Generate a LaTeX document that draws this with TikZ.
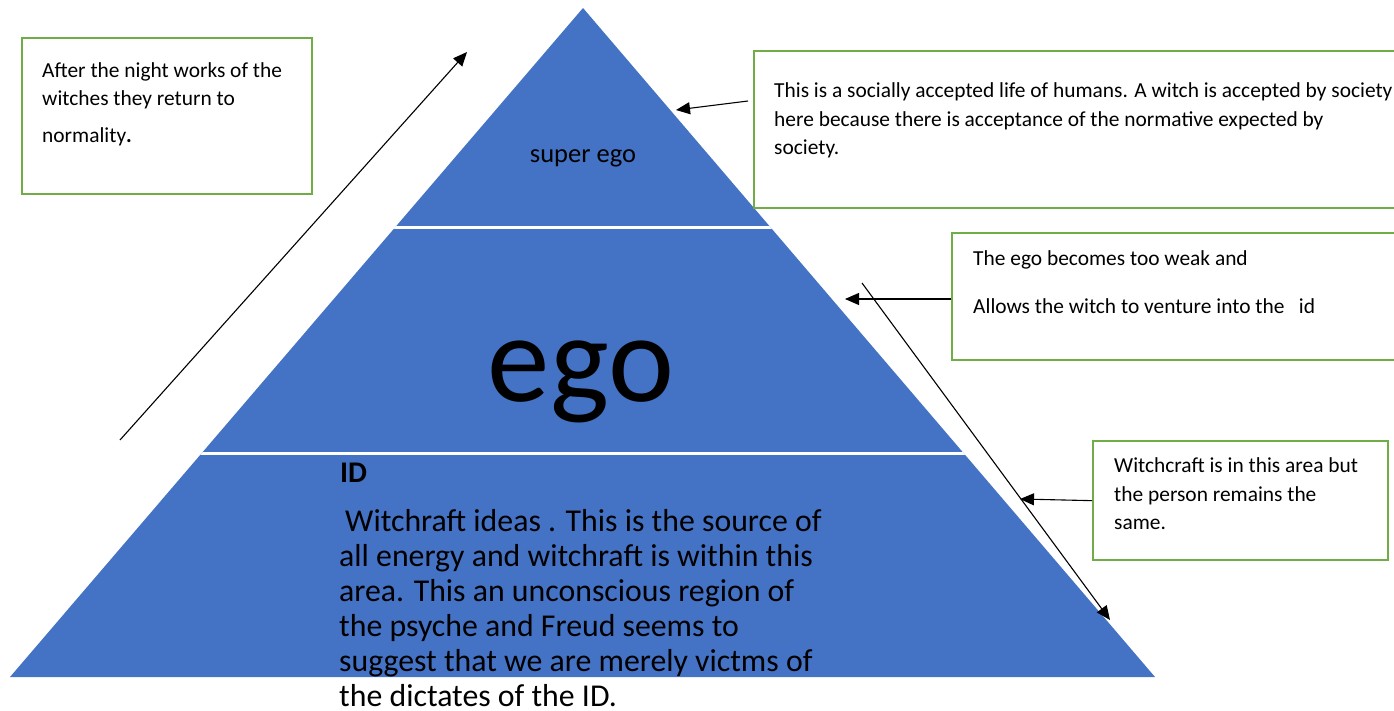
\documentclass[tikz,border=0pt]{standalone}
\usepackage{fontspec}
\setmainfont{Carlito}
\usetikzlibrary{arrows.meta,positioning,calc}
\definecolor{pyrblue}{HTML}{4472C4}
\definecolor{boxgreen}{HTML}{70AD47}
\newcommand{\notefont}{\fontsize{21.4}{28.5}\selectfont}
\newcommand{\idfont}{\fontsize{31.8}{35}\selectfont}

\begin{document}
\begin{tikzpicture}[x=1pt,y=-1pt,
  b/.style={draw=boxgreen,line width=2.3pt,anchor=north west,inner sep=0pt},
  t/.style={anchor=north west,align=left,inner sep=0pt,font=\notefont},
  ar/.style={-{Triangle[length=14pt,width=12pt]},line width=1.1pt},
  gap/.style={white,line width=3pt}]
\useasboundingbox (0,0) rectangle (1394,711);
% pyramid with two white cuts
\coordinate (apex) at (583,8);
\coordinate (bl) at (10,677);
\coordinate (br) at (1155,677);
\fill[pyrblue] (apex) -- (br) -- (bl) -- cycle;
\begin{scope}
  \clip (apex) -- (br) -- (bl) -- cycle;
  \draw[gap] (0,228) -- (1394,228);
  \draw[gap] (0,453) -- (1394,453);
\end{scope}
\node[font=\fontsize{26.5}{30}\selectfont,anchor=base] (superego) at (583,163) {super ego};
\node[font=\fontsize{125}{130}\selectfont,anchor=base] (ego) at (581,401) {ego};
\node[font=\fontsize{30}{34}\selectfont\bfseries,anchor=base west,inner sep=0pt] (id) at (340,482) {ID};
\node[anchor=north west,align=left,inner sep=0pt,font=\idfont] (idtext) at (339,509)
  {\hspace*{6pt}Witchraft ideas . This is the source of\\
   all energy and witchraft is within this\\
   area. This an unconscious region of\\
   the psyche and Freud seems to\\
   suggest that we are merely victms of\\
   the dictates of the ID.};
% note boxes
\node[b,minimum width=290pt,minimum height=156pt] (night) at (21,37) {};
\node[t] (nighttext) at ([shift={(21,25)}]night.north west)
  {After the night works of the\\ witches they return to\\[8pt] normality{\bfseries.}};
\node[b,minimum width=645pt,minimum height=157pt] (social) at (753,50) {};
\node[t] (socialtext) at ([shift={(21,32.5)}]social.north west)
  {This is a socially accepted life of humans. A witch is accepted by society\\
   here because there is acceptance of the normative expected by\\ society.};
\node[b,minimum width=447pt,minimum height=127pt] (weak) at (951,232) {};
\node[t] (weaktext) at ([shift={(22,18.5)}]weak.north west)
  {The ego becomes too weak and\\[19.5pt] Allows the witch to venture into the\ \ \ id};
\node[b,minimum width=295pt,minimum height=119pt] (witch) at (1092,440) {};
\node[t] (witchtext) at ([shift={(22,17.5)}]witch.north west)
  {Witchcraft is in this area but\\ the person remains the\\ same.};
% arrows
\coordinate (upfrom) at (120,440);
\coordinate (upto) at (467,52);
\draw[ar] (upfrom) -- (upto);
\coordinate (sgto) at (676,110);
\draw[ar] ([shift={(-5,51)}]social.north west) -- (sgto);
\coordinate (egoto) at (845,299);
\draw[ar] (weak.west |- egoto) -- (egoto);
\coordinate (downfrom) at (862,283);
\coordinate (downto) at (1110,620);
\draw[ar] (downfrom) -- (downto);
\coordinate (idto) at (1020,499);
\draw[ar] (witch.west) -- (idto);
\end{tikzpicture}
\end{document}
